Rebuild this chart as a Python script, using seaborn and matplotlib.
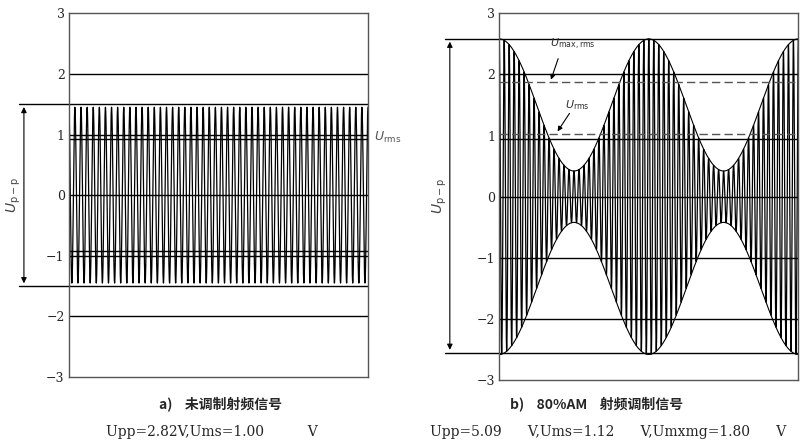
import numpy as np, pandas as pd
import matplotlib
matplotlib.use("Agg")
import matplotlib.pyplot as plt
import seaborn as sns

sns.set_theme(style="white")
plt.rcParams['font.family'] = ['Noto Sans CJK SC', 'DejaVu Sans']

# parameters
carrier_amp = [1.45, 1.5]
carrier_cycles = [49, 60]
mod_depth = [0.0, 0.72]
mod_cycles = [0, 2]
hlines_a = [2, 1.5, 1.0, 0.92, 0, -0.92, -1.0, -1.5, -2]
hlines_b = [2.58, 2.0, 0.95, 0, -1.0, -2.0, -2.55]
dashed_b = [1.87, 1.03]
yticks = [-3, -2, -1, 0, 1, 2, 3]
captions = ["a)    未调制射频信号", "b)    80%AM    射频调制信号"]
subcaps = ["Upp=2.82V,Ums=1.00          V", "Upp=5.09      V,Ums=1.12      V,Umxmg=1.80      V"]

fig = plt.figure(figsize=(8, 4.41), dpi=100)
axA = fig.add_axes([0.086, 0.145, 0.374, 0.825])
axB = fig.add_axes([0.624, 0.138, 0.374, 0.832])

t = np.linspace(0, 1, 6000)
for i, ax in enumerate([axA, axB]):
    env = carrier_amp[i] * (1 + mod_depth[i] * np.cos(2*np.pi*mod_cycles[i]*t))
    y = env * np.cos(2*np.pi*carrier_cycles[i]*t)
    df = pd.DataFrame({"t": t, "y": y})
    sns.lineplot(data=df, x="t", y="y", ax=ax, color="black", lw=0.9)
    if mod_depth[i] > 0:
        ax.plot(t, env, color="black", lw=0.8)
        ax.plot(t, -env, color="black", lw=0.8)
    for h in (hlines_a if i == 0 else hlines_b):
        ax.axhline(h, color="black", lw=1.0)
    if i == 1:
        for h in dashed_b:
            ax.axhline(h, color="#555555", lw=1.0, ls=(0, (6, 3)))
    ax.set_xlim(0, 1)
    ax.set_ylim(-3, 3)
    ax.set_yticks(yticks)
    ax.set_yticklabels([str(v).replace('-', '−') for v in yticks], family="DejaVu Serif", fontsize=9)
    ax.set_xticks([])
    ax.set_xlabel(""); ax.set_ylabel("")
    ax.tick_params(axis='y', length=0, pad=3)
    for s in ax.spines.values():
        s.set_color("#555555"); s.set_linewidth(1.0)

def dim(ax, top, bot, xarrow, xl, label):
    for v in (top, bot):
        ax.plot([xl, 0], [v, v], color="black", lw=1.0, transform=ax.get_yaxis_transform(), clip_on=False)
    ax.annotate("", xy=(xarrow, top), xytext=(xarrow, bot), xycoords=ax.get_yaxis_transform(),
                arrowprops=dict(arrowstyle="<|-|>", color="black", lw=0.8, mutation_scale=8))
    ax.text(xarrow - 0.035, (top+bot)/2, label, transform=ax.get_yaxis_transform(), rotation=90,
            ha="center", va="center", fontsize=10, color="#444444")

dim(axA, 1.5, -1.5, -0.15, -0.165, r"$U_{\rm p-p}$")
dim(axB, 2.58, -2.55, -0.165, -0.18, r"$U_{\rm p-p}$")
axA.text(1.02, 0.95, r"$U_{\rm rms}$", transform=axA.get_yaxis_transform(), fontsize=9, color="#555555", va="center")
axB.text(0.17, 2.45, r"$U_{\rm max,rms}$", fontsize=8, color="#333333")
axB.annotate("", xy=(0.17, 1.87), xytext=(0.2, 2.3), arrowprops=dict(arrowstyle="-|>", color="black", lw=0.8, mutation_scale=7))
axB.text(0.22, 1.45, r"$U_{\rm rms}$", fontsize=8, color="#333333")
axB.annotate("", xy=(0.19, 1.03), xytext=(0.24, 1.4), arrowprops=dict(arrowstyle="-|>", color="black", lw=0.8, mutation_scale=7))

fig.text(0.275, 0.075, captions[0], ha="center", fontsize=10, weight="bold")
fig.text(0.265, 0.012, subcaps[0], ha="center", fontsize=10, family="DejaVu Serif")
fig.text(0.745, 0.075, captions[1], ha="center", fontsize=10, weight="bold")
fig.text(0.76, 0.012, subcaps[1], ha="center", fontsize=10, family="DejaVu Serif")

fig.savefig("out.png", dpi=100)
